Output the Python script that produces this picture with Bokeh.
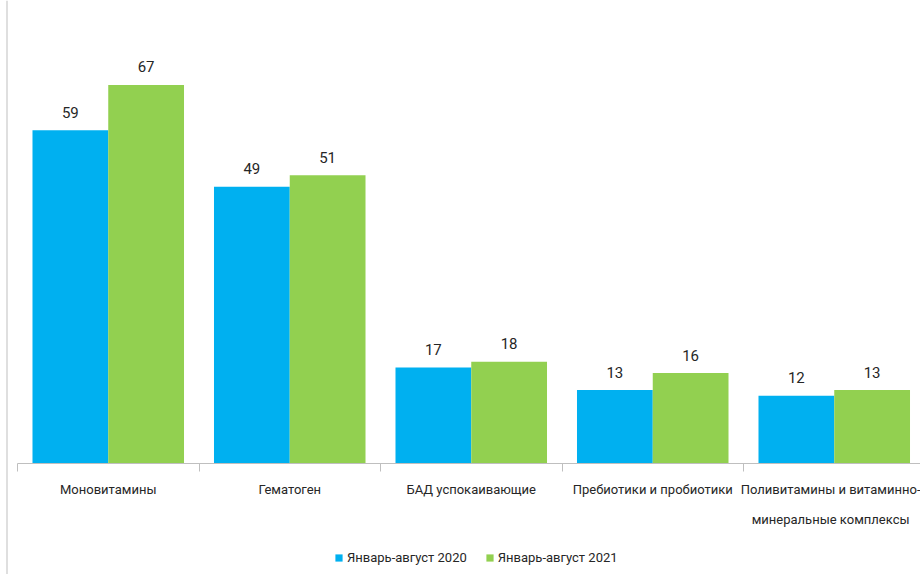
from bokeh.plotting import figure
from bokeh.models import ColumnDataSource, FixedTicker, Legend, LegendItem, Range1d, LabelSet, Span
from bokeh.embed import file_html
from bokeh.resources import INLINE
from bokeh.core.properties import value

categories = ["Моновитамины", "Гематоген", "БАД успокаивающие",
              "Пребиотики и пробиотики", "Поливитамины и витаминно-\nминеральные комплексы"]
series_names = ["Январь-август 2020", "Январь-август 2021"]
values_2020 = [59, 49, 17, 13, 12]
values_2021 = [67, 51, 18, 16, 13]
colors = ["#00B0F0", "#92D050"]

FONT = "Roboto"
W, H = 920, 574
cat_px = 181.5
x_start = -17 / cat_px
x_end = x_start + W / cat_px
px_per_unit = 5.65
base_px = 463
y_end = base_px / px_per_unit
y_start = -(H - base_px) / px_per_unit
bar_w = 0.4174

p = figure(width=W, height=H, output_backend="svg", toolbar_location=None,
           x_range=Range1d(x_start, x_end), y_range=Range1d(y_start, y_end),
           min_border_left=0, min_border_right=0, min_border_top=0, min_border_bottom=0)
p.outline_line_color = None
p.xgrid.visible = False
p.ygrid.visible = False
p.yaxis.visible = False

idx = list(range(len(categories)))
src1 = ColumnDataSource(dict(x=[i + 0.5 - bar_w / 2 for i in idx], top=values_2020,
                             lbl=[str(v) for v in values_2020]))
src2 = ColumnDataSource(dict(x=[i + 0.5 + bar_w / 2 for i in idx], top=values_2021,
                             lbl=[str(v) for v in values_2021]))
r1 = p.vbar(x="x", top="top", width=bar_w, bottom=0, source=src1, fill_color=colors[0], line_color=None)
r2 = p.vbar(x="x", top="top", width=bar_w, bottom=0, source=src2, fill_color=colors[1], line_color=None)

for s in (src1, src2):
    p.add_layout(LabelSet(x="x", y="top", text="lbl", source=s, text_align="center",
                          text_baseline="middle", y_offset=18, text_font=value(FONT),
                          text_font_size="15px", text_color="#262626"))

# left border line of the chart area
p.add_layout(Span(location=(6.5 - 17) / cat_px, dimension="height",
                  line_color="#BFBFBF", line_width=1))

ax = p.xaxis[0]
ax.fixed_location = 0
ax.ticker = FixedTicker(ticks=[i + 0.5 for i in idx], minor_ticks=list(range(len(categories) + 1)))
ax.major_label_overrides = {i + 0.5: c for i, c in zip(idx, categories)}
ax.bounds = (0, len(categories))
ax.axis_line_color = "#BFBFBF"
ax.major_tick_out = 0
ax.major_tick_in = 0
ax.minor_tick_out = 8
ax.minor_tick_in = 0
ax.minor_tick_line_color = "#BFBFBF"
ax.major_label_text_font = FONT
ax.major_label_text_font_size = "13px"
ax.major_label_text_line_height = 2.0
ax.major_label_text_color = "#262626"
ax.major_label_standoff = 10

legend = Legend(items=[LegendItem(label=series_names[0], renderers=[r1]),
                       LegendItem(label=series_names[1], renderers=[r2])],
                orientation="horizontal", location=(334, 9),
                padding=0, margin=0, spacing=18, label_standoff=4,
                glyph_width=9, glyph_height=9, label_height=16,
                border_line_color=None, background_fill_alpha=0,
                label_text_font=FONT, label_text_font_size="13px", label_text_color="#262626")
p.add_layout(legend, "center")

open("out.html", "w").write(file_html(p, INLINE))
